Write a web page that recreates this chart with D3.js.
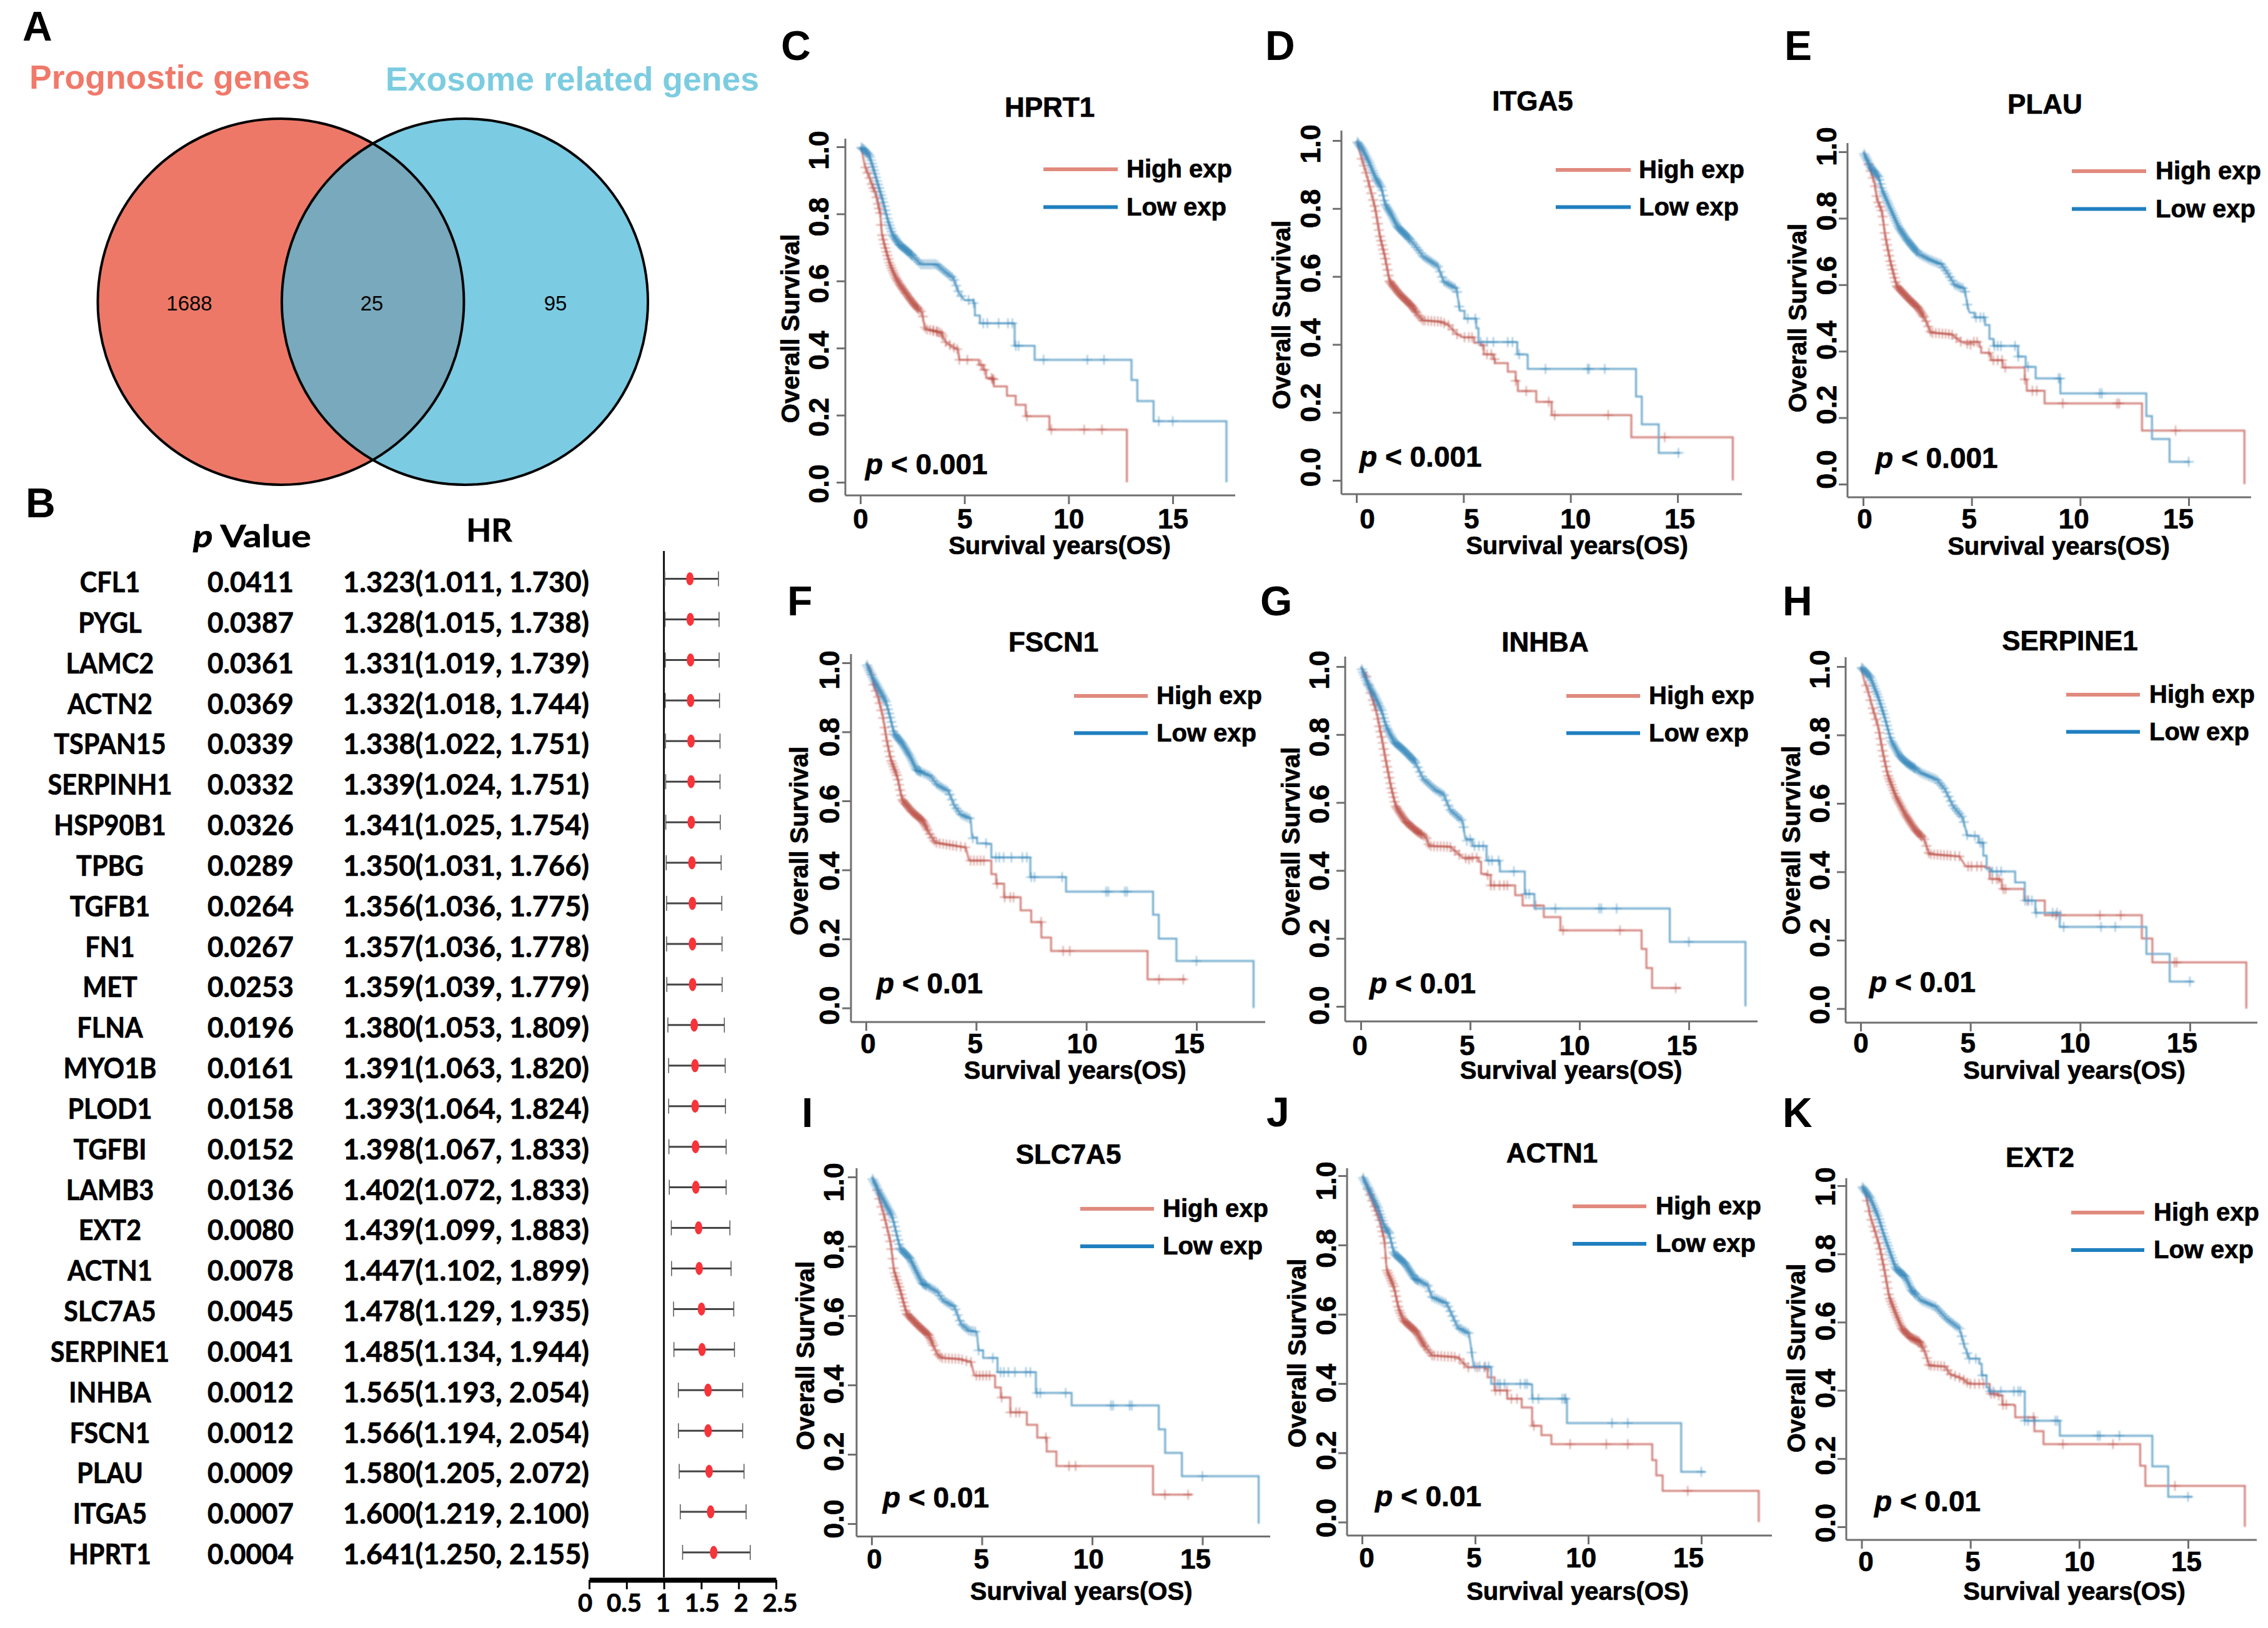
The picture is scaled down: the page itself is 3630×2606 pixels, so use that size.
<!DOCTYPE html>
<html lang="en">
  <head>
    <meta charset="utf-8">
    <title>Prognostic exosome related genes</title>
    <script src="https://cdn.jsdelivr.net/npm/d3@7"></script>
    <style>
      body { margin: 0; background: #fff; }
      svg { display: block; }
      text { font-family: "Liberation Sans", Arial, sans-serif; fill: #000; }
      .km text { font-weight: 700; stroke: #000; stroke-width: 0.7px; }
      .cond { font-family: Lato, sans-serif; font-weight: 700; stroke: #000; stroke-width: 0.7px; }
    </style>
  </head>
  <body>
    <script>
      // Panel A
      const vennCounts = [1688, 25, 95];
      const vennNames = ["Prognostic genes", "Exosome related genes"];

      // Panel B
      const genes = ["CFL1","PYGL","LAMC2","ACTN2","TSPAN15","SERPINH1","HSP90B1","TPBG","TGFB1","FN1","MET","FLNA","MYO1B","PLOD1","TGFBI","LAMB3","EXT2","ACTN1","SLC7A5","SERPINE1","INHBA","FSCN1","PLAU","ITGA5","HPRT1"];
      const pValues = [0.0411,0.0387,0.0361,0.0369,0.0339,0.0332,0.0326,0.0289,0.0264,0.0267,0.0253,0.0196,0.0161,0.0158,0.0152,0.0136,0.0080,0.0078,0.0045,0.0041,0.0012,0.0012,0.0009,0.0007,0.0004];
      const hrValues = [1.323,1.328,1.331,1.332,1.338,1.339,1.341,1.350,1.356,1.357,1.359,1.380,1.391,1.393,1.398,1.402,1.439,1.447,1.478,1.485,1.565,1.566,1.580,1.600,1.641];
      const hrLower = [1.011,1.015,1.019,1.018,1.022,1.024,1.025,1.031,1.036,1.036,1.039,1.053,1.063,1.064,1.067,1.072,1.099,1.102,1.129,1.134,1.193,1.194,1.205,1.219,1.250];
      const hrUpper = [1.730,1.738,1.739,1.744,1.751,1.751,1.754,1.766,1.775,1.778,1.779,1.809,1.820,1.824,1.833,1.833,1.883,1.899,1.935,1.944,2.054,2.054,2.072,2.100,2.155];
      const forestTicks = [0, 0.5, 1, 1.5, 2, 2.5];

      // Survival curves, [years, survival]
      const hprt1High = [[0,1],[.1,.98],[.2,.947],[.3,.93],[.43,.91],[.6,.88],[.73,.863],[.85,.83],[.96,.8],[1.03,.742],[1.15,.71],[1.25,.687],[1.4,.655],[1.55,.631],[1.7,.61],[1.85,.594],[2,.58],[2.2,.562],[2.4,.545],[2.6,.529],[2.8,.515],[2.97,.506],[3.05,.474],[3.12,.457],[3.5,.452],[3.87,.446],[4.1,.418],[4.4,.405],[4.7,.395],[4.75,.365],[5.7,.35],[5.89,.335],[6.04,.311],[6.34,.307],[6.41,.286],[7.04,.258],[7.46,.231],[7.94,.197],[9.08,.157],[12.8,0]];
      const hprt1Low = [[0,1],[.2,.99],[.43,.974],[.66,.928],[.88,.881],[1.1,.835],[1.33,.779],[1.55,.738],[1.85,.71],[2.3,.687],[2.68,.664],[2.9,.65],[3.65,.65],[4.1,.626],[4.47,.608],[4.72,.566],[5,.543],[5.44,.534],[5.5,.497],[5.74,.474],[7.38,.472],[7.41,.407],[8.37,.365],[13.02,.305],[13.3,.242],[14.08,.182],[17.58,0]];
      const itga5High = [[0,1],[.2,.956],[.43,.91],[.66,.855],[.88,.8],[1.1,.718],[1.33,.659],[1.55,.586],[2,.549],[2.6,.512],[2.9,.485],[3.1,.471],[3.94,.467],[4.3,.457],[4.7,.43],[5,.421],[5.5,.405],[5.8,.398],[5.95,.371],[6.4,.357],[6.47,.345],[7.07,.32],[7.44,.293],[7.54,.263],[8.4,.231],[9.12,.192],[12.84,.127],[17.58,0]];
      const itga5Low = [[0,1],[.28,.974],[.58,.938],[.88,.892],[1.18,.86],[1.33,.814],[1.63,.782],[1.92,.746],[2.37,.718],[2.74,.691],[3.12,.659],[3.79,.631],[4.08,.586],[4.68,.563],[4.83,.499],[5.05,.476],[5.6,.448],[5.7,.407],[7.51,.371],[7.96,.369],[8,.328],[13.06,.247],[13.33,.165],[14.12,.081],[15.12,.081]];
      const plauHigh = [[0,1],[.26,.961],[.53,.905],[.64,.858],[.87,.82],[1.02,.746],[1.25,.671],[1.55,.596],[2.09,.558],[2.54,.53],[2.85,.498],[3.12,.456],[4.07,.451],[4.52,.428],[5.36,.413],[5.44,.395],[5.82,.39],[5.89,.373],[6.43,.351],[7.45,.315],[7.54,.281],[8.36,.243],[12.85,.161],[17.57,0]];
      const plauLow = [[0,1],[.33,.956],[.72,.923],[.87,.886],[1.25,.83],[1.63,.774],[2.01,.736],[2.54,.694],[3.08,.675],[3.61,.661],[3.91,.633],[4.22,.6],[4.68,.587],[4.8,.54],[4.9,.516],[5.13,.502],[5.62,.479],[5.82,.437],[6.01,.416],[7.14,.384],[7.49,.353],[7.95,.318],[9.09,.273],[13.05,.205],[13.31,.136],[14.12,.067],[15.05,.067]];
      const fscn1High = [[0,1],[.19,.985],[.33,.94],[.55,.901],[.77,.844],[.94,.777],[1.13,.719],[1.42,.671],[1.64,.604],[2.07,.57],[2.58,.542],[2.94,.499],[3.16,.479],[4.02,.47],[4.53,.465],[4.68,.427],[5.4,.427],[5.69,.388],[5.91,.36],[6.27,.321],[7.02,.283],[7.5,.249],[7.96,.204],[8.4,.165],[12.78,.083],[14.52,.083]];
      const fscn1Low = [[0,1],[.33,.954],[.62,.92],[.91,.887],[1.13,.834],[1.27,.796],[1.64,.767],[2,.729],[2.29,.69],[2.94,.671],[3.23,.647],[3.74,.628],[4.02,.585],[4.31,.561],[4.75,.548],[4.82,.494],[5.04,.477],[5.47,.475],[5.69,.436],[7.46,.379],[9.08,.337],[13.03,.27],[13.29,.201],[14.09,.136],[17.59,0]];
      const inhbaHigh = [[0,1],[.22,.978],[.44,.924],[.7,.871],[.95,.793],[1.17,.715],[1.38,.647],[1.6,.589],[2.04,.545],[2.55,.516],[2.99,.497],[3.13,.472],[4.08,.47],[4.66,.438],[5.39,.426],[5.5,.39],[5.75,.387],[5.94,.356],[7.06,.327],[7.4,.297],[8.37,.263],[9.13,.224],[12.84,.169],[13.06,.113],[13.32,.054],[14.64,.054]];
      const inhbaLow = [[0,1],[.29,.953],[.66,.91],[.95,.871],[1.17,.822],[1.53,.778],[1.97,.754],[2.48,.72],[2.84,.671],[3.42,.637],[3.79,.623],[4.08,.579],[4.66,.545],[4.78,.492],[5.1,.472],[5.75,.429],[6.33,.426],[6.36,.397],[7.5,.331],[7.94,.288],[14.13,.19],[17.59,0]];
      const serpine1High = [[0,1],[.2,.95],[.29,.94],[.51,.887],[.8,.824],[1.02,.747],[1.23,.684],[1.6,.621],[2.03,.568],[2.47,.524],[2.9,.495],[3.12,.452],[4.5,.445],[4.79,.416],[5.66,.413],[5.88,.379],[6.32,.374],[6.43,.35],[7.45,.316],[8.39,.273],[12.81,.205],[13.29,.135],[17.57,0]];
      const serpine1Low = [[0,1],[.44,.969],[.8,.911],[1.09,.853],[1.38,.785],[1.74,.742],[2.03,.722],[2.76,.689],[3.48,.669],[3.85,.64],[4.21,.592],[4.65,.558],[4.86,.505],[5.37,.485],[5.59,.447],[5.74,.408],[5.95,.401],[7.04,.369],[7.48,.316],[7.96,.28],[9.07,.239],[13.02,.16],[14.08,.079],[15.17,.079]];
      const slc7a5High = [[0,1],[.18,.98],[.36,.934],[.58,.886],[.87,.809],[1.01,.731],[1.3,.673],[1.59,.606],[2.1,.572],[2.6,.543],[2.97,.49],[3.18,.478],[3.98,.475],[4.51,.466],[4.66,.427],[5.4,.427],[5.6,.393],[5.86,.364],[6.29,.321],[7.04,.285],[7.51,.248],[7.94,.208],[8.38,.166],[12.76,.084],[14.54,.084]];
      const slc7a5Low = [[0,1],[.36,.954],[.65,.92],[.94,.886],[1.16,.828],[1.3,.794],[1.74,.765],[2.03,.727],[2.31,.693],[2.97,.669],[3.25,.644],[3.76,.625],[4.05,.577],[4.41,.557],[4.77,.553],[4.85,.5],[5.06,.478],[5.71,.437],[7.45,.377],[9.07,.341],[13.02,.272],[13.31,.204],[14.07,.137],[17.55,0]];
      const actn1High = [[0,1],[.2,.97],[.49,.921],[.78,.872],[.99,.814],[1.09,.728],[1.41,.679],[1.62,.616],[1.83,.583],[2.4,.549],[2.75,.51],[3.1,.481],[4.23,.476],[4.66,.447],[5.43,.443],[5.55,.418],[5.86,.38],[6.42,.356],[7.06,.331],[7.52,.278],[7.93,.251],[8.37,.225],[12.83,.179],[13.01,.135],[13.29,.09],[17.54,0]];
      const actn1Low = [[0,1],[.35,.955],[.71,.906],[.99,.853],[1.2,.834],[1.41,.776],[1.9,.747],[2.33,.703],[2.89,.684],[3.1,.65],[3.74,.631],[4.02,.592],[4.23,.563],[4.73,.544],[4.9,.467],[4.94,.449],[5.64,.447],[5.71,.399],[7.41,.397],[7.52,.356],[9.06,.286],[14.11,.145],[15.17,.145]];
      const ext2High = [[0,1],[.18,.977],[.4,.91],[.62,.866],[.83,.821],[1.05,.753],[1.27,.674],[1.57,.625],[1.86,.581],[2.23,.556],[2.67,.542],[2.89,.517],[3.11,.473],[3.84,.47],[4.06,.448],[4.64,.434],[4.94,.419],[5.67,.419],[5.89,.39],[6.25,.385],[6.47,.358],[7.02,.355],[7.06,.321],[7.94,.28],[8.36,.242],[12.8,.179],[13.04,.12],[17.61,0]];
      const ext2Low = [[0,1],[.4,.964],[.76,.91],[1.05,.851],[1.35,.797],[1.57,.758],[2.01,.733],[2.3,.694],[2.74,.664],[3.4,.645],[3.91,.61],[4.5,.581],[4.72,.532],[4.94,.493],[5.41,.478],[5.52,.444],[5.74,.409],[5.84,.397],[7.5,.311],[9.11,.267],[13.36,.177],[14.09,.088],[15.19,.088]];

      // Censored patients, years. The dense early part is read once per group
      const earlyHighCensor = [.25,.35,.45,.55,.62,.7,.78,.85,.9,.95,1,1.05,1.1,1.15,1.2,1.25,1.3,1.35,1.4,1.45,1.5,1.55,1.6,1.65,1.7,1.75,1.8,1.85,1.9,1.95,2,2.05,2.1,2.15,2.2,2.25,2.3,2.35,2.4,2.45,2.5,2.55,2.6,2.65,2.7,2.75,2.8,2.9,3,3.1,3.2,3.35,3.5,3.65,3.8,3.95,4.1,4.3];
      const earlyLowCensor = [.05,.1,.15,.2,.25,.3,.35,.4,.45,.5,.55,.6,.65,.7,.75,.8,.85,.9,.95,1,1.05,1.1,1.15,1.2,1.25,1.3,1.35,1.4,1.45,1.5,1.55,1.6,1.65,1.7,1.75,1.8,1.85,1.9,1.95,2,2.05,2.1,2.15,2.2,2.25,2.3,2.35,2.4,2.45,2.5,2.6,2.7,2.8,2.9,3,3.1,3.2,3.3,3.4,3.5,3.6,3.7,3.8,3.9,4,4.1,4.2,4.3,4.4,4.5,4.6,4.7];
      const hprt1HighLate = [3.5,3.7,3.9,4.5,4.65,4.75,5.14,5.8,5.96,6.3,6.35,6.4,8,9.17,10.75,11.6];
      const hprt1LowLate = [4.85,5.2,5.44,5.9,6.1,6.64,7.09,7.3,7.46,7.6,8.8,10.9,11.7,14.33,15];
      const itga5HighLate = [4.5,4.7,5.05,5.25,5.4,5.9,6.1,6.3,6.45,7.44,7.93,8.98,9.26,11.76,14.4];
      const itga5LowLate = [4.8,5.2,5.55,5.8,6.1,6.4,7.07,7.29,7.6,8.83,10.8,10.87,11.6,15.04];
      const plauHighLate = [4.5,4.8,4.95,5.1,5.25,5.8,6,6.2,6.4,6.55,7.45,7.8,8,9.2,11.7,11.8,14.4];
      const plauLowLate = [4.8,5.2,5.4,5.55,6.05,6.2,6.35,7,7.15,7.6,9,9.08,10.9,11,15];
      const fscn1HighLate = [4.5,4.75,4.9,5.05,5.2,5.35,5.95,6.3,6.55,6.7,7.95,8.95,9.25,13.3,14.4];
      const fscn1LowLate = [4.85,5.45,5.9,6.05,6.25,6.6,7.1,7.3,7.5,7.65,8.9,10.9,11,11.75,11.85,15];
      const inhbaHighLate = [4.5,4.8,4.95,5.1,5.3,5.8,5.95,6.1,6.35,6.55,6.7,8,9.25,11.85,14.4];
      const inhbaLowLate = [4.85,5,5.2,5.4,5.6,5.85,6,6.3,7,7.55,7.7,8.9,10.9,11,11.7,15];
      const serpine1HighLate = [4.5,4.9,5.05,5.3,5.5,6,6.2,6.3,6.5,6.6,7.6,8.9,9.1,10.9,11.85,14.3,14.4];
      const serpine1LowLate = [4.85,5.2,5.45,5.55,6,6.2,6.4,7.5,7.65,7.8,8,8.75,8.95,9.25,10.95,11.6,15];
      const slc7a5HighLate = [4.5,4.75,4.9,5.05,5.2,5.35,5.9,6.3,6.55,6.7,7.9,8.95,9.25,13.3,14.35];
      const slc7a5LowLate = [4.85,5.5,5.85,6,6.2,6.5,7,7.2,7.5,7.65,8.8,10.85,10.95,11.7,11.8,15];
      const actn1HighLate = [4.5,4.7,5.1,5.4,5.9,6.1,6.4,6.6,6.85,7.6,9.2,10.8,11.75,14.4];
      const actn1LowLate = [4.85,5,5.2,5.45,5.6,6,6.1,6.3,7,7.2,7.3,7.55,7.8,8.85,8.95,9,11.05,11.75,15];
      const ext2HighLate = [4.5,4.7,4.85,5,5.2,5.4,5.6,5.95,6.1,6.3,6.5,6.65,7.9,9.25,11.55,14.4];
      const ext2LowLate = [4.85,4.95,5.25,5.55,5.9,6.05,6.4,7,7.2,7.3,7.5,7.65,7.95,8.9,9,10.85,10.95,11.85,15];

      const xTicks = [0, 5, 10, 15];
      const yTicks = [0, 0.2, 0.4, 0.6, 0.8, 1];
      const legendNames = ["High exp", "Low exp"];

      const panels = [
        {letter:"C", gene:"HPRT1", p:"< 0.001", high:hprt1High, low:hprt1Low, highLate:hprt1HighLate, lowLate:hprt1LowLate},
        {letter:"D", gene:"ITGA5", p:"< 0.001", high:itga5High, low:itga5Low, highLate:itga5HighLate, lowLate:itga5LowLate},
        {letter:"E", gene:"PLAU", p:"< 0.001", high:plauHigh, low:plauLow, highLate:plauHighLate, lowLate:plauLowLate},
        {letter:"F", gene:"FSCN1", p:"< 0.01", high:fscn1High, low:fscn1Low, highLate:fscn1HighLate, lowLate:fscn1LowLate},
        {letter:"G", gene:"INHBA", p:"< 0.01", high:inhbaHigh, low:inhbaLow, highLate:inhbaHighLate, lowLate:inhbaLowLate},
        {letter:"H", gene:"SERPINE1", p:"< 0.01", high:serpine1High, low:serpine1Low, highLate:serpine1HighLate, lowLate:serpine1LowLate},
        {letter:"I", gene:"SLC7A5", p:"< 0.01", high:slc7a5High, low:slc7a5Low, highLate:slc7a5HighLate, lowLate:slc7a5LowLate},
        {letter:"J", gene:"ACTN1", p:"< 0.01", high:actn1High, low:actn1Low, highLate:actn1HighLate, lowLate:actn1LowLate},
        {letter:"K", gene:"EXT2", p:"< 0.01", high:ext2High, low:ext2Low, highLate:ext2HighLate, lowLate:ext2LowLate}
      ];

      // where each panel sits on the page, pixels.
      // labX/labY: the tick labels were placed apart from the ticks in the figure
      const layouts = {
        C:{lx:1250,ly:96,x0:1377,x15:1877,xEnd:1977,axY:793,y0:772,y1:235,yTop:222,axX:1353,tx:1680,ty:187,legA:1670,legB:1789,leg1:271,leg2:331.5,legT:1803,px:1385,py:759,ytx:1310,olx:1279,oly:526,xty:846,xlx:1696,xly:887,labX:[1377,1877],labY:[774,240]},
        D:{lx:2025,ly:96,x0:2171,x15:2685,xEnd:2788,axY:791,y0:769,y1:225,yTop:209,axX:2147,tx:2453,ty:177,legA:2490,legB:2610,leg1:272,leg2:331.5,legT:2623,px:2176,py:747,ytx:2097,olx:2065,oly:504,xty:846,xlx:2524,xly:887,labX:[2188,2688],labY:[747.5,230]},
        E:{lx:2856,ly:96,x0:2982,x15:3503,xEnd:3603,axY:796,y0:775,y1:243,yTop:229,axX:2957,tx:3273,ty:182,legA:3316,legB:3435,leg1:274,leg2:334.5,legT:3450,px:3002,py:749,ytx:2923,olx:2891,oly:509,xty:846,xlx:3295,xly:888,labX:[2984,3486],labY:[751,234]},
        F:{lx:1260,ly:985,x0:1386,x15:1915,xEnd:2025,axY:1636,y0:1613.5,y1:1061,yTop:1047,axX:1362,tx:1686,ty:1043,legA:1719,legB:1837,leg1:1114,leg2:1173.5,legT:1851,px:1403,py:1590,ytx:1327,olx:1293,oly:1346,xty:1686,xlx:1720.6,xly:1727,labX:[1389,1903],labY:[1609,1072]},
        G:{lx:2017,ly:985,x0:2178,x15:2703,xEnd:2813,axY:1635,y0:1611,y1:1067,yTop:1051,axX:2153,tx:2473,ty:1043,legA:2507,legB:2625,leg1:1114,leg2:1173.5,legT:2639,px:2192,py:1590,ytx:2111,olx:2080,oly:1347,xty:1689,xlx:2514.5,xly:1727,labX:[2176,2691.5],labY:[1609,1072]},
        H:{lx:2853,ly:985,x0:2978,x15:3505,xEnd:3613,axY:1637,y0:1614.5,y1:1067,yTop:1052,axX:2954,tx:3313,ty:1041,legA:3307,legB:3425,leg1:1112,leg2:1171.5,legT:3440,px:2992,py:1588,ytx:2912,olx:2881,oly:1345,xty:1685,xlx:3320,xly:1727,labX:[2978,3492],labY:[1608,1071]},
        I:{lx:1283,ly:1804,x0:1395,x15:1924.5,xEnd:2033,axY:2459.5,y0:2439,y1:1884,yTop:1870,axX:1371,tx:1710,ty:1863,legA:1729,legB:1847,leg1:1935,leg2:1995,legT:1861,px:1413,py:2413,ytx:1334,olx:1302.5,oly:2170,xty:2511,xlx:1730.6,xly:2561,labX:[1399,1913],labY:[2431,1892]},
        J:{lx:2027,ly:1803,x0:2180,x15:2723,xEnd:2836,axY:2458,y0:2436.5,y1:1882,yTop:1870,axX:2156,tx:2484,ty:1861,legA:2517,legB:2635,leg1:1931,leg2:1991,legT:2650,px:2201,py:2411,ytx:2122,olx:2090,oly:2166,xty:2509,xlx:2525,xly:2561,labX:[2187,2702],labY:[2429.5,1890]},
        K:{lx:2853,ly:1804,x0:2979.5,x15:3502,xEnd:3612,axY:2465,y0:2444,y1:1898,yTop:1886,axX:2955,tx:3265,ty:1868,legA:3315,legB:3432,leg1:1941,leg2:2001,legT:3447,px:3000,py:2419,ytx:2921,olx:2889,oly:2174,xty:2515,xlx:3320,xly:2561,labX:[2986,3499],labY:[2437.5,1899]}
      };

      const W = 3630, H = 2606;
      const svg = d3.select("body").append("svg").attr("width", W).attr("height", H).attr("viewBox", [0, 0, W, H]);
      svg.append("rect").attr("width", W).attr("height", H).attr("fill", "#fff");

      function letter(t, x, y) {
        svg.append("text").attr("x", x).attr("y", y).attr("font-size", 66).attr("font-weight", 700).text(t);
      }

      // ---- A: venn
      letter("A", 36, 65);
      svg.append("text").attr("x", 47).attr("y", 142).attr("font-size", 53).attr("font-weight", 700).style("fill", "#F0796A")
        .attr("textLength", 449).attr("lengthAdjust", "spacingAndGlyphs").text(vennNames[0]);
      svg.append("text").attr("x", 617).attr("y", 145).attr("font-size", 53).attr("font-weight", 700).style("fill", "#7CCCE0")
        .attr("textLength", 598).attr("lengthAdjust", "spacingAndGlyphs").text(vennNames[1]);
      const venn = [{cx:449.5, fill:"#EE7867"}, {cx:744, fill:"#7BCBE2"}];
      const defs = svg.append("defs");
      defs.append("clipPath").attr("id", "vennClip").append("circle").attr("cx", venn[0].cx).attr("cy", 483).attr("r", 293);
      defs.append("filter").attr("id", "soft").append("feGaussianBlur").attr("stdDeviation", 0.9);
      svg.selectAll(".vennFill").data(venn).join("circle").attr("cx", d => d.cx).attr("cy", 483).attr("r", 293).attr("fill", d => d.fill);
      svg.append("circle").attr("cx", venn[1].cx).attr("cy", 483).attr("r", 293).attr("fill", "#78A9BC").attr("clip-path", "url(#vennClip)");
      svg.selectAll(".vennRing").data(venn).join("circle").attr("cx", d => d.cx).attr("cy", 483).attr("r", 293).attr("fill", "none").attr("stroke", "#000").attr("stroke-width", 4);
      svg.selectAll(".vennCount").data(vennCounts).join("text")
        .attr("x", (d, i) => [303, 595, 889][i]).attr("y", 497).attr("text-anchor", "middle").attr("font-size", 33).text(d => d);

      // ---- B: forest plot
      letter("B", 41, 828);
      const fx = d3.scaleLinear().domain([0, 2.5]).range([943, 1242]);
      const fxLabel = d3.scaleLinear().domain([0, 2.5]).range([936, 1248]);
      const fy = d3.scalePoint().domain(genes).range([926.5, 2485]);
      const fyText = d3.scalePoint().domain(genes).range([948, 2504]);
      svg.append("text").attr("class", "cond").attr("x", 309).attr("y", 876).attr("font-size", 50)
        .attr("textLength", 189).attr("lengthAdjust", "spacingAndGlyphs")
        .html('<tspan font-style="italic">p</tspan> Value');
      svg.append("text").attr("class", "cond").attr("x", 783).attr("y", 867).attr("font-size", 52).attr("text-anchor", "middle").text("HR");
      svg.append("line").attr("x1", fx(1)).attr("x2", fx(1)).attr("y1", 882).attr("y2", 2525).attr("stroke", "#111").attr("stroke-width", 3);

      const row = svg.append("g").selectAll("g").data(genes).join("g");
      row.append("text").attr("class", "cond").attr("transform", d => `translate(176,${fyText(d)}) scale(0.9,1)`).attr("font-size", 46).attr("text-anchor", "middle").text(d => d);
      row.append("text").attr("class", "cond").attr("transform", d => `translate(401,${fyText(d)}) scale(0.957,1)`).attr("font-size", 46).attr("text-anchor", "middle").text((d, i) => pValues[i].toFixed(4));
      row.append("text").attr("class", "cond").attr("x", 549).attr("y", d => fyText(d)).attr("font-size", 46)
        .attr("textLength", 394).attr("lengthAdjust", "spacingAndGlyphs")
        .text((d, i) => `${hrValues[i].toFixed(3)}(${hrLower[i].toFixed(3)}, ${hrUpper[i].toFixed(3)})`);
      row.append("line").attr("x1", (d, i) => fx(hrLower[i])).attr("x2", (d, i) => fx(hrUpper[i])).attr("y1", d => fy(d)).attr("y2", d => fy(d)).attr("stroke", "#444").attr("stroke-width", 3);
      row.append("line").attr("x1", (d, i) => fx(hrLower[i])).attr("x2", (d, i) => fx(hrLower[i])).attr("y1", d => fy(d) - 12).attr("y2", d => fy(d) + 12).attr("stroke", "#555").attr("stroke-width", 1.5);
      row.append("line").attr("x1", (d, i) => fx(hrUpper[i])).attr("x2", (d, i) => fx(hrUpper[i])).attr("y1", d => fy(d) - 12).attr("y2", d => fy(d) + 12).attr("stroke", "#555").attr("stroke-width", 1.5);
      row.append("ellipse").attr("cx", (d, i) => fx(hrValues[i]) + 3).attr("cy", d => fy(d)).attr("rx", 6).attr("ry", 10.5).attr("fill", "#F8333A");

      const fAxis = svg.append("g").attr("transform", "translate(0,2529)")
        .call(d3.axisBottom(fx).tickValues(forestTicks).tickFormat(d => d).tickSize(15).tickSizeOuter(0));
      fAxis.select(".domain").attr("stroke", "#000").attr("stroke-width", 8);
      fAxis.selectAll(".tick line").attr("stroke", "#000").attr("stroke-width", 3);
      fAxis.selectAll(".tick text").attr("class", "cond").attr("x", d => fxLabel(d) - fx(d)).attr("y", 51).attr("dy", 0).attr("font-size", 40);

      // ---- C to K: survival curves
      const stepFrom = 5; // before this the curve is too dense to show single steps

      function survivalAt(curve, t) {
        const i = d3.bisector(d => d[0]).right(curve, t) - 1;
        if (t < stepFrom && curve[i + 1]) {
          const a = curve[i], b = curve[i + 1];
          return a[1] + (b[1] - a[1]) * (t - a[0]) / (b[0] - a[0]);
        }
        return curve[i][1];
      }

      function drawCurve(g, x, y, curve, censor, lineColor, markColor) {
        const early = curve.filter(d => d[0] <= stepFrom);
        const late = [early[early.length - 1]].concat(curve.filter(d => d[0] > stepFrom));
        const a = d3.line().x(d => x(d[0])).y(d => y(d[1]));
        const b = d3.line().x(d => x(d[0])).y(d => y(d[1])).curve(d3.curveStepAfter);
        g.append("path").attr("d", a(early) + b(late)).attr("fill", "none").attr("stroke", lineColor).attr("stroke-width", 3);
        const tEnd = curve[curve.length - 1][0];
        g.selectAll(null).data(censor.filter(t => t < tEnd)).join("path")
          .attr("d", "M-8,0H8M0,-8V8")
          .attr("transform", t => `translate(${x(t)},${y(survivalAt(curve, t))})`)
          .attr("fill", "none").attr("stroke", markColor).attr("stroke-width", 1.7).attr("stroke-opacity", 0.6);
      }

      panels.forEach(p => {
        const L = layouts[p.letter];
        letter(p.letter, L.lx, L.ly);
        const g = svg.append("g").attr("class", "km");
        const x = d3.scaleLinear().domain([0, 15]).range([L.x0, L.x15]);
        const y = d3.scaleLinear().domain([0, 1]).range([L.y0, L.y1]);
        const xLabel = d3.scaleLinear().domain([0, 15]).range(L.labX);
        const yLabel = d3.scaleLinear().domain([0, 1]).range(L.labY);

        const axisColor = "#6f6f6f";
        g.append("line").attr("x1", L.axX).attr("x2", L.axX).attr("y1", L.yTop).attr("y2", L.axY).attr("stroke", axisColor).attr("stroke-width", 3);
        g.append("line").attr("x1", L.axX).attr("x2", L.xEnd).attr("y1", L.axY).attr("y2", L.axY).attr("stroke", axisColor).attr("stroke-width", 3);

        const ax = g.append("g").attr("transform", `translate(0,${L.axY})`).call(d3.axisBottom(x).tickValues(xTicks).tickSize(14));
        ax.select(".domain").remove();
        ax.selectAll(".tick line").attr("stroke", axisColor).attr("stroke-width", 3);
        ax.selectAll(".tick text").attr("x", d => xLabel(d) - x(d)).attr("y", L.xty - L.axY).attr("dy", 0).attr("font-size", 44);

        const ay = g.append("g").attr("transform", `translate(${L.axX},0)`).call(d3.axisLeft(y).tickValues(yTicks).tickFormat(d3.format(".1f")).tickSize(14));
        ay.select(".domain").remove();
        ay.selectAll(".tick line").attr("stroke", axisColor).attr("stroke-width", 3);
        ay.selectAll(".tick text").attr("x", 0).attr("y", 0).attr("dy", 0).attr("text-anchor", "middle").attr("font-size", 45)
          .attr("transform", d => `translate(${L.ytx - L.axX + 16},${yLabel(d) - y(d)}) rotate(-90)`);

        const curves = g.append("g").attr("filter", "url(#soft)");
        drawCurve(curves, x, y, p.high, earlyHighCensor.concat(p.highLate), "#D2807A", "#B8463C");
        drawCurve(curves, x, y, p.low, earlyLowCensor.concat(p.lowLate), "#6FAACD", "#2C82B8");

        g.append("text").attr("x", L.tx).attr("y", L.ty).attr("text-anchor", "middle").attr("font-size", 44).text(p.gene);
        g.append("text").attr("transform", `translate(${L.olx},${L.oly}) rotate(-90)`).attr("text-anchor", "middle").attr("font-size", 40).text("Overall Survival");
        g.append("text").attr("x", L.xlx).attr("y", L.xly).attr("text-anchor", "middle").attr("font-size", 40).text("Survival years(OS)");
        g.append("text").attr("x", L.px).attr("y", L.py).attr("font-size", 46)
          .html(`<tspan font-style="italic">p</tspan> ${p.p.replace("<", "&lt;")}`);

        [[L.leg1, "#E08A7E"], [L.leg2, "#1F7FBF"]].forEach(([ly, color], i) => {
          g.append("line").attr("x1", L.legA).attr("x2", L.legB).attr("y1", ly).attr("y2", ly).attr("stroke", color).attr("stroke-width", 6);
          g.append("text").attr("x", L.legT).attr("y", ly + 13).attr("font-size", 40).text(legendNames[i]);
        });
      });
    </script>
  </body>
</html>
